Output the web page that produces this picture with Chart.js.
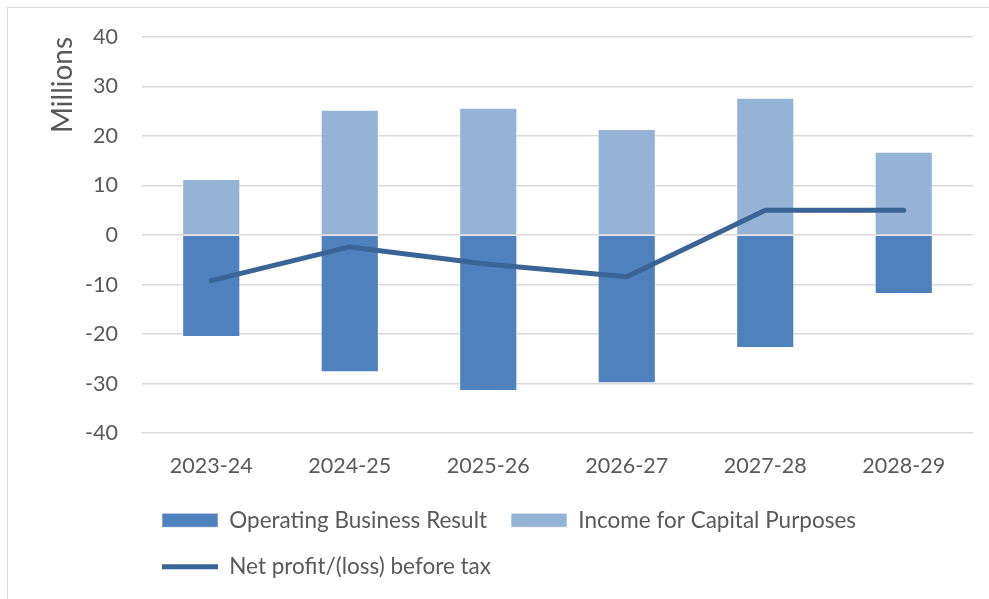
<!DOCTYPE html>
<html>
<head>
<meta charset="utf-8">
<script src="https://cdn.jsdelivr.net/npm/chart.js@4.4.1/dist/chart.umd.min.js"></script>
<style>
    html, body { margin: 0; padding: 0; background: #fff; overflow: hidden; }
    #wrap { position: relative; width: 989px; height: 599px; }
    #frame { position: absolute; left: 7px; top: 7px; width: 1100px; height: 700px; border: 1.5px solid #d9d9d9; pointer-events: none; }
    canvas { position: absolute; left: 0; top: 0; }
</style>
</head>
<body>
<div id="wrap">
    <canvas id="finChart" width="989" height="599"></canvas>
    <div id="frame"></div>
</div>
<script>
// Chart data (millions)
const years = ['2023-24', '2024-25', '2025-26', '2026-27', '2027-28', '2028-29'];
const operatingResult = [-20.6, -27.7, -31.5, -29.9, -22.8, -11.9];
const capitalIncome = [11.3, 25.3, 25.7, 21.4, 27.7, 16.8];
const netProfit = [-9.2, -2.4, -5.9, -8.4, 5.0, 5.0];
const yTicks = [-40, -30, -20, -10, 0, 10, 20, 30, 40];

const textColor = '#595959';
const fontFamily = 'Lato, Calibri, "Noto Sans", sans-serif';

// shift the legend so its rows start under the plot, like the original
const legendShift = {
    id: 'legendShift',
    afterLayout(chart) {
        const lg = chart.legend;
        if (lg) {
            const w = lg.right - lg.left;
            lg.left = 162 - lg.options.labels.padding;
            lg.right = lg.left + w;
            lg.top -= 6;
            lg.bottom -= 6;
        }
    }
};

const ctx = document.getElementById('finChart');
new Chart(ctx, {
    type: 'bar',
    data: {
        labels: years,
        datasets: [{
            label: 'Operating Business Result',
            data: operatingResult,
            backgroundColor: '#4f81bd',
            borderColor: 'rgba(255,255,255,0.55)',
            borderWidth: 1,
            stack: 'bars',
            pointStyle: 'rect',
            categoryPercentage: 1,
            barPercentage: 0.42,
            order: 1
        }, {
            label: 'Income for Capital Purposes',
            data: capitalIncome,
            backgroundColor: '#95b3d7',
            borderColor: 'rgba(255,255,255,0.55)',
            borderWidth: 1,
            stack: 'bars',
            pointStyle: 'rect',
            categoryPercentage: 1,
            barPercentage: 0.42,
            order: 1
        }, {
            type: 'line',
            label: 'Net profit/(loss) before tax',
            data: netProfit,
            borderColor: '#3a6496',
            backgroundColor: '#3a6496',
            borderWidth: 5,
            borderCapStyle: 'round',
            borderJoinStyle: 'round',
            pointRadius: 0,
            pointHoverRadius: 0,
            pointStyle: 'line',
            tension: 0,
            stack: 'net',
            order: 0
        }]
    },
    options: {
        responsive: false,
        animation: false,
        layout: { padding: { top: 33, right: 16, bottom: 5, left: 46 } },
        scales: {
            x: {
                stacked: true,
                grid: { display: false },
                border: { display: false },
                ticks: { color: textColor, font: { family: fontFamily, size: 21.5 }, padding: 12 }
            },
            y: {
                stacked: true,
                min: -40,
                max: 40,
                afterBuildTicks: axis => { axis.ticks = yTicks.map(v => ({ value: v })); },
                afterFit: axis => { axis.width = 96; },
                grid: { color: '#d9d9d9', lineWidth: 1.5, drawTicks: false },
                border: { display: false },
                ticks: { color: textColor, font: { family: fontFamily, size: 21.5 }, padding: 24 },
                title: {
                    display: true,
                    text: 'Millions',
                    align: 'end',
                    color: textColor,
                    font: { family: fontFamily, size: 28 },
                    padding: { top: 0, bottom: 4 }
                }
            }
        },
        plugins: {
            legend: {
                position: 'bottom',
                align: 'start',
                labels: {
                    usePointStyle: true,
                    pointStyleWidth: 56,
                    boxHeight: 14,
                    padding: 24,
                    color: textColor,
                    font: { family: fontFamily, size: 22.5 },
                    sort: (a, b) => a.datasetIndex - b.datasetIndex
                }
            },
            tooltip: { enabled: false }
        }
    },
    plugins: [legendShift]
});
</script>
</body>
</html>
